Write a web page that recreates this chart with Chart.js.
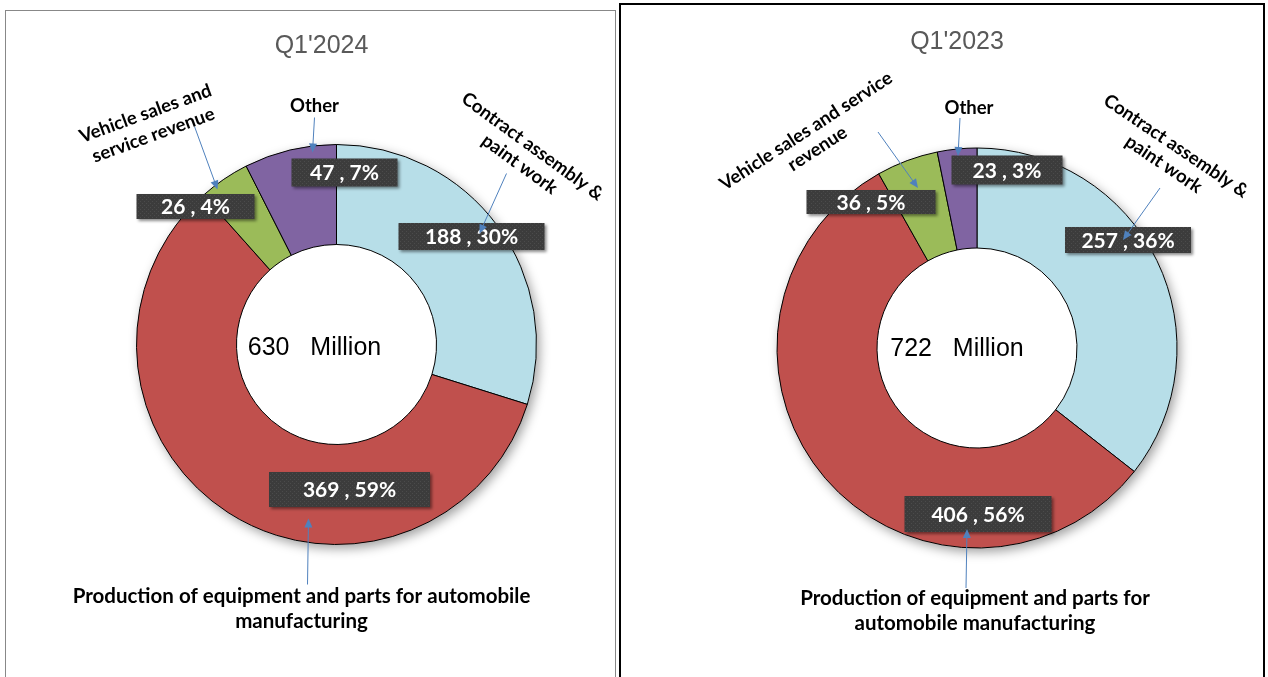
<!DOCTYPE html>
<html><head><meta charset="utf-8">
<script src="https://cdn.jsdelivr.net/npm/chart.js@4.4.1/dist/chart.umd.min.js"></script>
<style>
html,body{margin:0;padding:0;background:#fff;width:1268px;height:677px;overflow:hidden;}
.panel{position:absolute;box-sizing:border-box;background:#fff;}
#p1{left:5px;top:10px;width:611px;height:690px;border:1.5px solid #888;}
#p2{left:619px;top:3px;width:646px;height:700px;border:2px solid #000;}
canvas{position:absolute;left:0;top:0;}
</style></head><body>
<div class="panel" id="p1"><canvas id="c1" width="608" height="687"></canvas></div>
<div class="panel" id="p2"><canvas id="c2" width="642" height="696"></canvas></div>
<script>
// ---- data ----
const categories = ["Contract assembly & paint work","Production of equipment and parts for automobile manufacturing","Vehicle sales and service revenue","Other"];
const values2024 = [188, 369, 26, 47];
const values2023 = [257, 406, 36, 23];
const titles = ["Q1'2024", "Q1'2023"];
const unitLabel = "Million";
const labelLines2024 = [["Contract assembly &","paint work"],["Production of equipment and parts for automobile","manufacturing"],["Vehicle sales and","service revenue"],["Other"]];
const labelLines2023 = [["Contract assembly &","paint work"],["Production of equipment and parts for","automobile manufacturing"],["Vehicle sales and service","revenue"],["Other"]];
const colors = ["#B7DEE8","#C0504D","#9BBB59","#8064A2"];

// ---- annotation layout (offsets from the doughnut centre, px) ----
const layout2024 = {
  pad:{left:120.5,right:67.5,top:123.5,bottom:143.5},
  title:[-15,-298], center:[-22,4],
  boxes:[[135,-108,146,27],[13,145,161,35],[-141,-138,118,25],[8,-172,106,28]],
  cats:[{x:196,y:-198,rot:36,lh:22,fs:18.5},{x:-35,y:252,rot:0,lh:25,fs:20.5},{x:-191,y:-231,rot:-20,lh:23,fs:18.5},{x:-22,y:-238,rot:0,lh:22,fs:18.5}],
  leaders:[[170,-171,143,-111],[-29,240,-28,174],[-142,-218,-119,-155],[-22,-227,-24,-192]]
};
const layout2023 = {
  pad:{left:146,right:76,top:133,bottom:143},
  title:[-20,-306], center:[-20,1],
  boxes:[[151,-108,126,26],[1,166,147,36],[-106,-146,129,24],[30,-178,111,29]],
  cats:[{x:199,y:-202,rot:34,lh:22,fs:18.5},{x:-2,y:250,rot:0,lh:25,fs:20.5},{x:-171,y:-217,rot:-33,lh:21,fs:18.5},{x:-8,y:-240,rot:0,lh:22,fs:18.5}],
  leaders:[[183,-160,146,-108],[-11,240,-10,181],[-99,-216,-59,-160],[-17,-230,-19,-192]]
};

function makePattern(){
  const p=document.createElement('canvas'); p.width=4; p.height=4;
  const g=p.getContext('2d');
  g.fillStyle='#3c3c3c'; g.fillRect(0,0,4,4);
  g.fillStyle='#4b4b4b'; g.fillRect(0,0,1,1); g.fillRect(2,2,1,1);
  return p;
}

function makeAnnot(values, lines, L, title){
  return {
    id:'annot',
    beforeDatasetsDraw(chart){
      const arc=chart.getDatasetMeta(0).data[0];
      const ctx=chart.ctx; ctx.save();
      ctx.shadowColor='rgba(0,0,0,0.38)'; ctx.shadowBlur=11; ctx.shadowOffsetX=3; ctx.shadowOffsetY=4;
      ctx.beginPath(); ctx.arc(arc.x,arc.y,arc.outerRadius,0,Math.PI*2);
      ctx.fillStyle='#fff'; ctx.fill();
      ctx.restore();
    },
    afterDatasetsDraw(chart){
      const meta=chart.getDatasetMeta(0);
      const cx=meta.data[0].x, cy=meta.data[0].y;
      const ctx=chart.ctx;
      const total=values.reduce((a,b)=>a+b,0);
      const pat=ctx.createPattern(makePattern(),'repeat');
      ctx.save();
      // title
      ctx.fillStyle='#595959'; ctx.font='25px "Liberation Sans", Arial, sans-serif';
      ctx.textAlign='center'; ctx.textBaseline='middle';
      ctx.fillText(title, cx+L.title[0], cy+L.title[1]);
      // centre text
      ctx.fillStyle='#000'; ctx.font='25px "Liberation Sans", Arial, sans-serif';
      ctx.fillText(total+'   '+unitLabel, cx+L.center[0], cy+L.center[1]);
      // value boxes
      values.forEach((v,i)=>{
        const b=L.boxes[i];
        const x=cx+b[0]-b[2]/2, y=cy+b[1]-b[3]/2;
        ctx.save();
        ctx.shadowColor='rgba(0,0,0,0.45)'; ctx.shadowBlur=3; ctx.shadowOffsetX=2; ctx.shadowOffsetY=2;
        ctx.fillStyle=pat; ctx.fillRect(x,y,b[2],b[3]);
        ctx.restore();
        ctx.fillStyle='#fff'; ctx.font='bold 21px Lato, "Open Sans", sans-serif';
        ctx.textAlign='center'; ctx.textBaseline='middle';
        ctx.fillText(v+' , '+Math.round(v/total*100)+'%', cx+b[0], cy+b[1]+1);
      });
      // leader lines
      ctx.strokeStyle='#4F81BD'; ctx.fillStyle='#4F81BD'; ctx.lineWidth=1;
      L.leaders.forEach(l=>{
        const x1=cx+l[0], y1=cy+l[1], x2=cx+l[2], y2=cy+l[3];
        const a=Math.atan2(y2-y1,x2-x1);
        ctx.beginPath(); ctx.moveTo(x1,y1); ctx.lineTo(x2-6*Math.cos(a),y2-6*Math.sin(a)); ctx.stroke();
        ctx.beginPath(); ctx.moveTo(x2,y2);
        ctx.lineTo(x2-9*Math.cos(a)+4*Math.sin(a), y2-9*Math.sin(a)-4*Math.cos(a));
        ctx.lineTo(x2-9*Math.cos(a)-4*Math.sin(a), y2-9*Math.sin(a)+4*Math.cos(a));
        ctx.closePath(); ctx.fill();
      });
      // category labels
      ctx.fillStyle='#000';
      ctx.textAlign='center'; ctx.textBaseline='middle';
      lines.forEach((ls,i)=>{
        const c=L.cats[i];
        ctx.font='bold '+c.fs+'px Lato, "Open Sans", sans-serif';
        ctx.save(); ctx.translate(cx+c.x, cy+c.y); ctx.rotate(c.rot*Math.PI/180);
        ls.forEach((t,k)=>ctx.fillText(t,0,k*c.lh));
        ctx.restore();
      });
      ctx.restore();
    }
  };
}

function build(id, values, lines, L, title){
  new Chart(document.getElementById(id), {
    type:'doughnut',
    data:{labels:categories, datasets:[{data:values, backgroundColor:colors, borderColor:'#000', borderWidth:1}]},
    options:{
      responsive:false, animation:false, cutout:'50%', radius:200,
      layout:{padding:L.pad},
      plugins:{legend:{display:false}, tooltip:{enabled:false}}
    },
    plugins:[makeAnnot(values, lines, L, title)]
  });
}
build('c1', values2024, labelLines2024, layout2024, titles[0]);
build('c2', values2023, labelLines2023, layout2023, titles[1]);
</script>
</body></html>
